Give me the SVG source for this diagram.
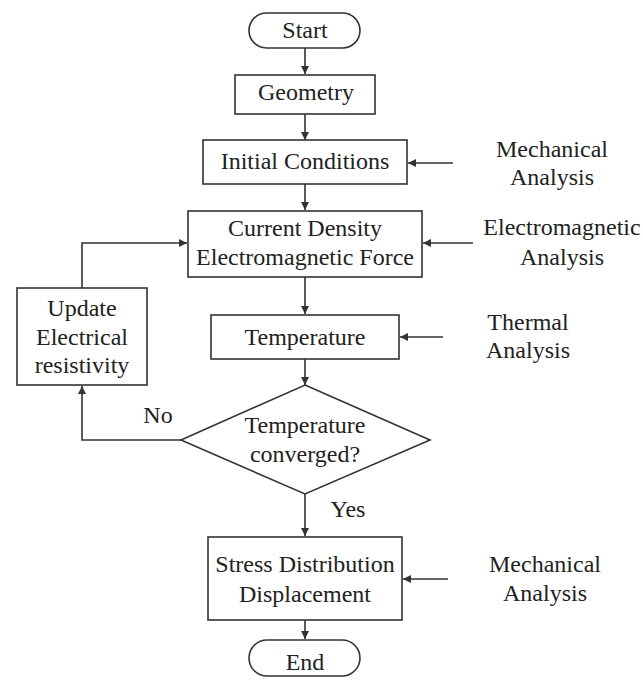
<svg xmlns="http://www.w3.org/2000/svg" width="643" height="680" viewBox="0 0 643 680">
<style>
.b{fill:#fff;stroke:#333;stroke-width:1.6}
.t{font-family:"Liberation Serif","Times New Roman",serif;font-size:24px;fill:#222;text-anchor:middle}
.c{fill:none;stroke:#333;stroke-width:1.6}
</style>
<defs>
<marker id="ah" viewBox="0 0 10 10" refX="10" refY="5" markerWidth="10" markerHeight="8" markerUnits="userSpaceOnUse" orient="auto">
<path d="M0,0 L10,5 L0,10 z" fill="#333"/>
</marker>
</defs>
<rect width="643" height="680" fill="#fff"/>
<g id="connectors">
<path class="c" d="M305,48 V74" marker-end="url(#ah)"/>
<path class="c" d="M305,114 V140" marker-end="url(#ah)"/>
<path class="c" d="M305,184 V210" marker-end="url(#ah)"/>
<path class="c" d="M305,277 V314" marker-end="url(#ah)"/>
<path class="c" d="M305,359 V385" marker-end="url(#ah)"/>
<path class="c" d="M305,494 V536" marker-end="url(#ah)"/>
<path class="c" d="M305,620 V639" marker-end="url(#ah)"/>
<path class="c" d="M181,440 H82 V386" marker-end="url(#ah)"/>
<path class="c" d="M82,288 V243 H187" marker-end="url(#ah)"/>
<path class="c" d="M453,163 H408" marker-end="url(#ah)"/>
<path class="c" d="M473,243 H423" marker-end="url(#ah)"/>
<path class="c" d="M443,337 H400" marker-end="url(#ah)"/>
<path class="c" d="M448,579 H403" marker-end="url(#ah)"/>
</g>
<g id="start"><rect class="b" x="249" y="13" width="111" height="35" rx="17.5"/><text class="t" x="305" y="38">Start</text></g>
<g id="geometry"><rect class="b" x="235" y="75" width="140" height="39"/><text class="t" x="306" y="100">Geometry</text></g>
<g id="initial"><rect class="b" x="203" y="140" width="204" height="44"/><text class="t" x="305" y="169">Initial Conditions</text></g>
<g id="current"><rect class="b" x="188" y="211" width="234" height="66"/><text class="t" x="305" y="236">Current Density</text><text class="t" x="305" y="265">Electromagnetic Force</text></g>
<g id="temperature"><rect class="b" x="211" y="315" width="188" height="44"/><text class="t" x="305" y="345">Temperature</text></g>
<g id="update"><rect class="b" x="17" y="288" width="130" height="97"/><text class="t" x="82" y="316">Update</text><text class="t" x="82" y="345">Electrical</text><text class="t" x="82" y="373">resistivity</text></g>
<g id="decision"><path class="b" d="M305,385 L430,440 L305,494 L181,440 Z"/><text class="t" x="305" y="433">Temperature</text><text class="t" x="305" y="462">converged?</text></g>
<g id="stress"><rect class="b" x="208" y="537" width="194" height="83"/><text class="t" x="305" y="572">Stress Distribution</text><text class="t" x="305" y="602">Displacement</text></g>
<g id="end"><rect class="b" x="249" y="640" width="111" height="36" rx="18"/><text class="t" x="305" y="670">End</text></g>
<g id="labels">
<text class="t" x="158" y="423">No</text>
<text class="t" x="348" y="517">Yes</text>
<text class="t" x="552" y="157">Mechanical</text><text class="t" x="552" y="185">Analysis</text>
<text class="t" x="562" y="235">Electromagnetic</text><text class="t" x="562" y="265">Analysis</text>
<text class="t" x="528" y="330">Thermal</text><text class="t" x="528" y="358">Analysis</text>
<text class="t" x="545" y="572">Mechanical</text><text class="t" x="545" y="601">Analysis</text>
</g>
</svg>
